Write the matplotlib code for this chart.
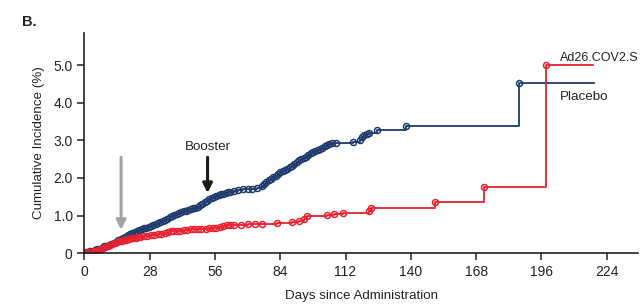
import numpy as np
import matplotlib.pyplot as plt

plt.rcParams['font.family'] = ['Liberation Sans', 'DejaVu Sans']

# placebo events (day, cumulative incidence %)
placebo_days = [0.5, 1.5, 2.5, 3.5, 4.5, 5.5, 6.5, 7.5, 8.5, 9.5, 10.5, 11.5, 12.5, 13.5,
                14.5, 15.5, 16.5, 17.5, 18.5, 19.5, 20.5, 21.5, 22.5, 23.5, 24.5, 25.5,
                26.5, 27.5, 28.5, 29.5, 30.5, 31.5, 32.5, 33.5, 34.5, 35.5, 36.5, 37.5,
                38.5, 39.5, 40.5, 41.5, 42.5, 43.5, 44.5, 45.5, 46.5, 47.5, 48.5, 49.5,
                50.5, 51.5, 52.5, 53.5, 54.5, 55.5, 56.5, 57.5, 58.5, 59.5, 60.5, 61.5,
                62.5, 64, 66, 68, 70, 72, 74, 76, 77, 78, 79, 80, 81, 82, 83, 84, 85, 86,
                87, 88, 89, 90, 91, 92, 93, 94, 95, 96, 97, 98, 99, 100, 101, 102, 103,
                104, 105, 106, 108, 115, 118, 119, 120, 121, 122, 125.5, 138, 186.5]
placebo_vals = [0.02, 0.03, 0.05, 0.06, 0.08, 0.10, 0.12, 0.15, 0.18, 0.20, 0.22, 0.25, 0.28,
                0.31, 0.34, 0.37, 0.40, 0.43, 0.47, 0.50, 0.54, 0.57, 0.60, 0.62, 0.64, 0.66,
                0.68, 0.70, 0.72, 0.74, 0.77, 0.80, 0.83, 0.86, 0.88, 0.91, 0.95, 0.99, 1.02,
                1.05, 1.07, 1.09, 1.11, 1.13, 1.15, 1.17, 1.19, 1.21, 1.24, 1.27, 1.30, 1.35,
                1.40, 1.45, 1.48, 1.50, 1.52, 1.55, 1.57, 1.58, 1.60, 1.62, 1.63, 1.65, 1.68,
                1.70, 1.71, 1.72, 1.73, 1.78, 1.84, 1.90, 1.95, 1.98, 2.02, 2.06, 2.10, 2.15,
                2.18, 2.20, 2.25, 2.28, 2.33, 2.38, 2.43, 2.47, 2.50, 2.53, 2.56, 2.60, 2.66,
                2.70, 2.73, 2.75, 2.77, 2.79, 2.84, 2.88, 2.91, 2.93, 2.94, 2.95, 3.01, 3.08,
                3.14, 3.18, 3.21, 3.28, 3.39, 4.52]
placebo_end = 218.5

# Ad26.COV2.S events
vaccine_days = [0.5, 2, 3, 4, 5, 6, 7, 8, 9, 10, 11, 12, 13, 14, 15, 16, 17, 18, 19, 20, 21,
                22, 23, 24, 25.5, 27, 28.5, 30, 31.5, 33, 34.5, 36, 37, 38, 39.5, 41, 42.5,
                44, 45.5, 47, 48.5, 50, 52, 53.5, 55, 56.5, 58, 59.5, 61, 62.5, 64, 67, 70,
                73, 76, 82.5, 89, 92, 94, 95.5, 104, 107, 111, 122, 123, 150.5, 171.5, 198]
vaccine_vals = [0.02, 0.03, 0.04, 0.05, 0.06, 0.08, 0.10, 0.13, 0.16, 0.19, 0.22, 0.25, 0.28,
                0.30, 0.32, 0.33, 0.35, 0.36, 0.37, 0.39, 0.40, 0.41, 0.42, 0.43, 0.45, 0.46,
                0.47, 0.48, 0.50, 0.51, 0.53, 0.56, 0.58, 0.59, 0.60, 0.60, 0.61, 0.62, 0.63,
                0.64, 0.64, 0.65, 0.65, 0.66, 0.67, 0.68, 0.70, 0.72, 0.74, 0.75, 0.76, 0.76,
                0.77, 0.77, 0.78, 0.80, 0.83, 0.86, 0.92, 0.98, 1.01, 1.03, 1.07, 1.13, 1.21,
                1.35, 1.75, 5.00]
vaccine_end = 218

xticks = [0, 28, 56, 84, 112, 140, 168, 196, 224]
yticks = [0, 1, 2, 3, 4, 5]
ytick_labels = ['0', '1.0', '2.0', '3.0', '4.0', '5.0']

blue = '#1d3a6b'
red = '#e8202f'
txt = '#222222'

fig = plt.figure(figsize=(6.4, 3.05), dpi=100)
ax = fig.add_axes([0.132, 0.17, 0.865, 0.722])

for days, vals, end, c in [(placebo_days, placebo_vals, placebo_end, blue),
                           (vaccine_days, vaccine_vals, vaccine_end, red)]:
    xs = [0] + days + [end]
    ys = [0] + vals + [vals[-1]]
    ax.step(xs, ys, where='post', color=c, lw=1.3)
    ax.plot(days, vals, 'o', mfc='none', mec=c, ms=4.3, mew=1.1)

# arrows
ax.annotate('', xy=(15.7, 0.62), xytext=(15.7, 2.55),
            arrowprops=dict(arrowstyle='-|>', color='#a3a3a3', lw=2.2,
                            mutation_scale=14, shrinkA=0, shrinkB=0))
ax.annotate('', xy=(52.8, 1.6), xytext=(52.8, 2.55),
            arrowprops=dict(arrowstyle='-|>', color='#1a1a1a', lw=2.2,
                            mutation_scale=14, shrinkA=0, shrinkB=0))
ax.text(52.8, 2.83, 'Booster', ha='center', va='center', fontsize=9.6, color=txt)

ax.text(204, 5.2, 'Ad26.COV2.S', ha='left', va='center', fontsize=9, color=txt)
ax.text(204, 4.15, 'Placebo', ha='left', va='center', fontsize=9.6, color=txt)

ax.set_xlim(0, 237.5)
ax.set_ylim(0, 5.86)
ax.set_xticks(xticks)
ax.set_yticks(yticks)
ax.set_yticklabels(ytick_labels)
ax.tick_params(direction='out', length=5, width=1.1, labelsize=10, colors=txt)
for s in ['top', 'right']:
    ax.spines[s].set_visible(False)
for s in ['left', 'bottom']:
    ax.spines[s].set_linewidth(1.2)
    ax.spines[s].set_color(txt)

ax.set_xlabel('Days since Administration', fontsize=9.6, color=txt, labelpad=8)
ax.set_ylabel('Cumulative Incidence (%)', fontsize=9.6, color=txt, labelpad=6)

fig.text(0.034, 0.915, 'B.', fontsize=10.5, fontweight='bold', color=txt)

fig.savefig('out.png', dpi=100)
